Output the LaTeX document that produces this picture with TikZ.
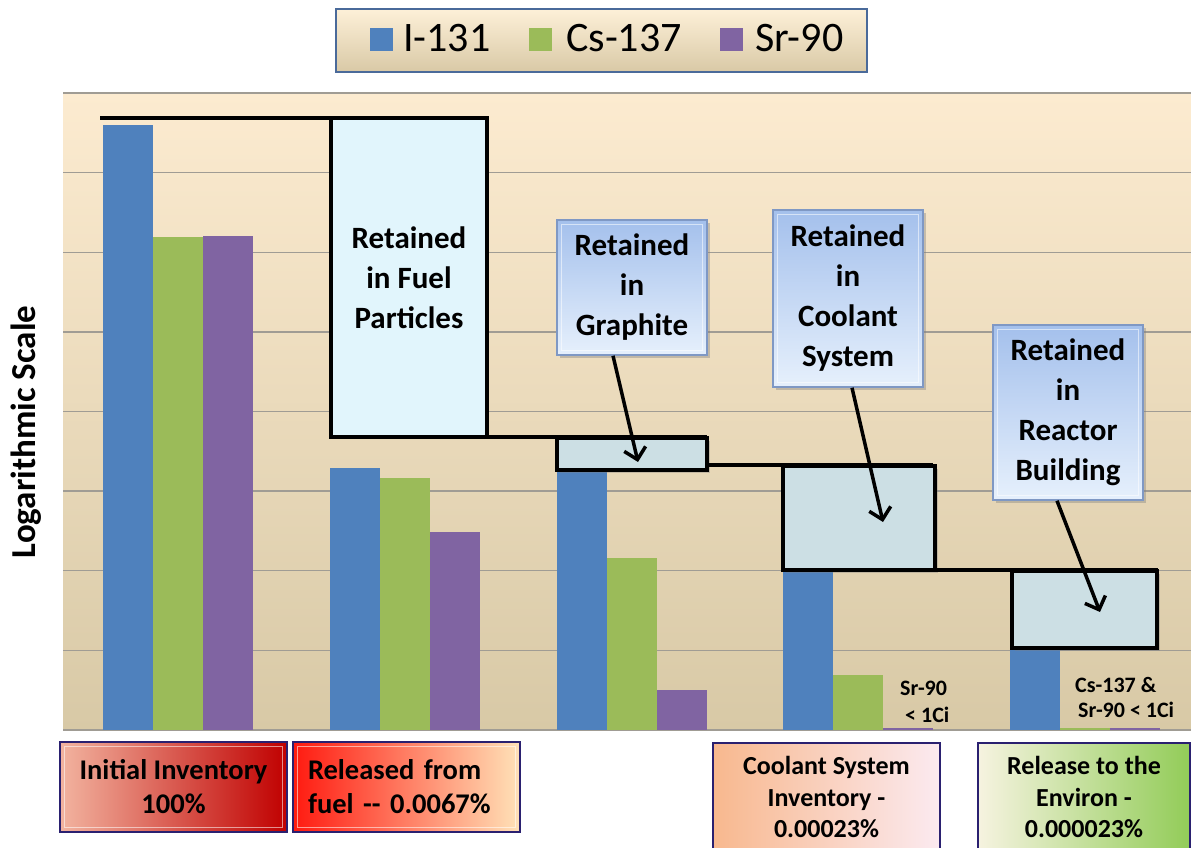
\documentclass[tikz,border=0pt]{standalone}
\usepackage{fontspec}
\setmainfont{Carlito}
\usetikzlibrary{arrows.meta,shadows}

\definecolor{ibar}{HTML}{4F81BD}
\definecolor{csbar}{HTML}{9BBB59}
\definecolor{srbar}{HTML}{8064A2}
\definecolor{plottop}{HTML}{FCEBD0}
\definecolor{plotbot}{HTML}{D8C9A6}
\definecolor{gridc}{HTML}{A09C94}
\definecolor{retfill}{HTML}{CCDFE4}
\definecolor{fuelfill}{HTML}{E1F5FC}
\definecolor{calltop}{HTML}{A4C0EC}
\definecolor{callbot}{HTML}{E6F0FC}
\definecolor{calledge}{HTML}{7F98C4}
\definecolor{keyedge}{HTML}{4A6A9A}
\definecolor{keytop}{HTML}{FDF0D8}
\definecolor{keybot}{HTML}{D9C9A6}
\definecolor{stageedge}{HTML}{2A2070}
\definecolor{redA}{HTML}{F2B4A0}
\definecolor{redB}{HTML}{CF2228}
\definecolor{redC}{HTML}{C00000}
\definecolor{relA}{HTML}{FF1A10}
\definecolor{relB}{HTML}{FFC890}
\definecolor{relC}{HTML}{FFE2B8}
\definecolor{coolA}{HTML}{F8B88E}
\definecolor{coolB}{HTML}{FBD2B4}
\definecolor{coolC}{HTML}{FBEAF0}
\definecolor{envA}{HTML}{F6F3E0}
\definecolor{envB}{HTML}{DCEBB8}
\definecolor{envC}{HTML}{92CC58}

\tikzset{
  gridline/.style={draw=gridc, line width=1.4pt},
  level/.style={line width=3.5pt},
  retbox/.style={draw=black, line width=3.5pt, fill=retfill,
    drop shadow={shadow xshift=3pt, shadow yshift=-3pt, opacity=.35}},
  callout/.style={draw=calledge, line width=1.5pt, top color=calltop,
    bottom color=callbot, minimum width=150pt, text width=146pt,
    align=center, inner sep=0pt,
    font=\fontsize{31}{40}\selectfont\bfseries,
    drop shadow={shadow xshift=3pt, shadow yshift=-3pt, opacity=.4}},
  bevel/.style={draw=white, line width=1.2pt, opacity=.55},
  pointer/.style={line width=3.5pt, -{Straight Barb[length=11pt,width=22pt]}},
  stage/.style={draw=stageedge, line width=1.6pt, minimum width=227pt,
    minimum height=90pt, inner sep=0pt, align=center,
    font=\fontsize{28.5}{34}\selectfont\bfseries},
  smallstage/.style={font=\fontsize{26}{31.5}\selectfont\bfseries},
  keytext/.style={anchor=base west, inner sep=0pt,
    font=\fontsize{42}{50}\selectfont},
  note/.style={anchor=base west, inner sep=0pt,
    font=\fontsize{22}{27}\selectfont\bfseries},
}

\begin{document}
\begin{tikzpicture}[x=1pt, y=-1pt]
\useasboundingbox[fill=white] (0,0) rectangle (1191,848);

% plot area and grid
\shade[top color=plottop, bottom color=plotbot] (63,93) rectangle (1191,730);
\foreach \k in {0,...,8}
  \draw[gridline] (63,93+\k*79.625) -- (1191,93+\k*79.625);

% bars: group start x, then tops of I-131, Cs-137, Sr-90
\foreach \x/\a/\b/\c in {103/125/237/236, 330/468/478/532, 557/470/558/690,
                         783/570/675/728, 1010/650/728/728} {
  \fill[ibar]  (\x,730)     rectangle (\x+50,\a);
  \fill[csbar] (\x+50,730)  rectangle (\x+100,\b);
  \fill[srbar] (\x+100,730) rectangle (\x+150,\c);
}

% retention steps
\draw[level] (100,118) -- (487,118);
\node[draw=black, line width=3.5pt, fill=fuelfill, minimum width=156pt,
      minimum height=319pt, inner sep=0pt, align=center,
      font=\fontsize{31}{40}\selectfont\bfseries] (fuel) at (409,277.5)
  {Retained\\in Fuel\\Particles};
\draw[level] (331,437) -- (707,437);
\node[retbox, minimum width=150pt, minimum height=32pt, inner sep=0pt] (graphite) at (632,454) {};
\draw[level] (707,465) -- (933,465);
\node[retbox, minimum width=152pt, minimum height=104pt, inner sep=0pt] (coolant) at (859,518) {};
\draw[level] (783,570) -- (1158,570);
\node[retbox, minimum width=145pt, minimum height=77pt, inner sep=0pt] (building) at (1084.5,609.5) {};

% callouts
\node[callout, minimum height=135pt] (cg) at (632,287.5) {Retained\\in\\Graphite};
\node[callout, minimum height=177pt] (cc) at (848,298.5) {Retained\\in\\Coolant\\System};
\node[callout, minimum height=175pt] (cb) at (1068,412.5) {Retained\\in\\Reactor\\Building};
\foreach \n in {cg,cc,cb}
  \draw[bevel] ([shift={(5,5)}]\n.north west) rectangle ([shift={(-5,-5)}]\n.south east);

\coordinate (tg) at (638,462);
\coordinate (tc) at (883,522);
\coordinate (tb) at (1100,612);
\draw[pointer] ([xshift=-19pt]cg.south) -- (tg);
\draw[pointer] ([xshift=4pt]cc.south) -- (tc);
\draw[pointer] ([xshift=-11pt]cb.south) -- (tb);

% small notes
\node[note] (n1) at (900,695) {Sr-90};
\node[note] (n2) at (905,722) {< 1Ci};
\node[note] (n3) at (1075,692) {Cs-137 \&};
\node[note] (n4) at (1078,717) {Sr-90 < 1Ci};

% axis title
\node[rotate=90, inner sep=0pt, font=\fontsize{35}{40}\selectfont\bfseries]
  (ylab) at (26,432) {Logarithmic Scale};

% legend
\node[draw=keyedge, line width=1.5pt, top color=keytop, bottom color=keybot,
      minimum width=531pt, minimum height=63pt, inner sep=0pt] (key) at (601.5,40.5) {};
\fill[ibar]  (370,28) rectangle (393,51);
\node[keytext] (k1) at (403,52) {I-131};
\fill[csbar] (529,28) rectangle (552,51);
\node[keytext] (k2) at (566,52) {Cs-137};
\fill[srbar] (720,28) rectangle (743,51);
\node[keytext] (k3) at (755,52) {Sr-90};

% stage labels
\node[stage, left color=redA, middle color=redB, right color=redC] (s1)
  at (173.5,787) {Initial Inventory\\100\%};
\node[stage, left color=relA, middle color=relB, right color=relC,
      text width=197pt, align=left] (s2)
  at (406.5,787) {Released from\\fuel -{}- 0.0067\%};
\node[stage, smallstage, minimum height=108pt, left color=coolA,
      middle color=coolB, right color=coolC] (s3)
  at (826.5,797) {Coolant System\\Inventory -\\0.00023\%};
\node[stage, smallstage, minimum width=212pt, minimum height=108pt,
      left color=envA, middle color=envB, right color=envC] (s4)
  at (1084,797) {Release to the\\Environ -\\0.000023\%};
\foreach \n in {s1,s2}
  \draw[bevel] ([shift={(5,5)}]\n.north west) rectangle ([shift={(-5,-5)}]\n.south east);
\end{tikzpicture}
\end{document}
